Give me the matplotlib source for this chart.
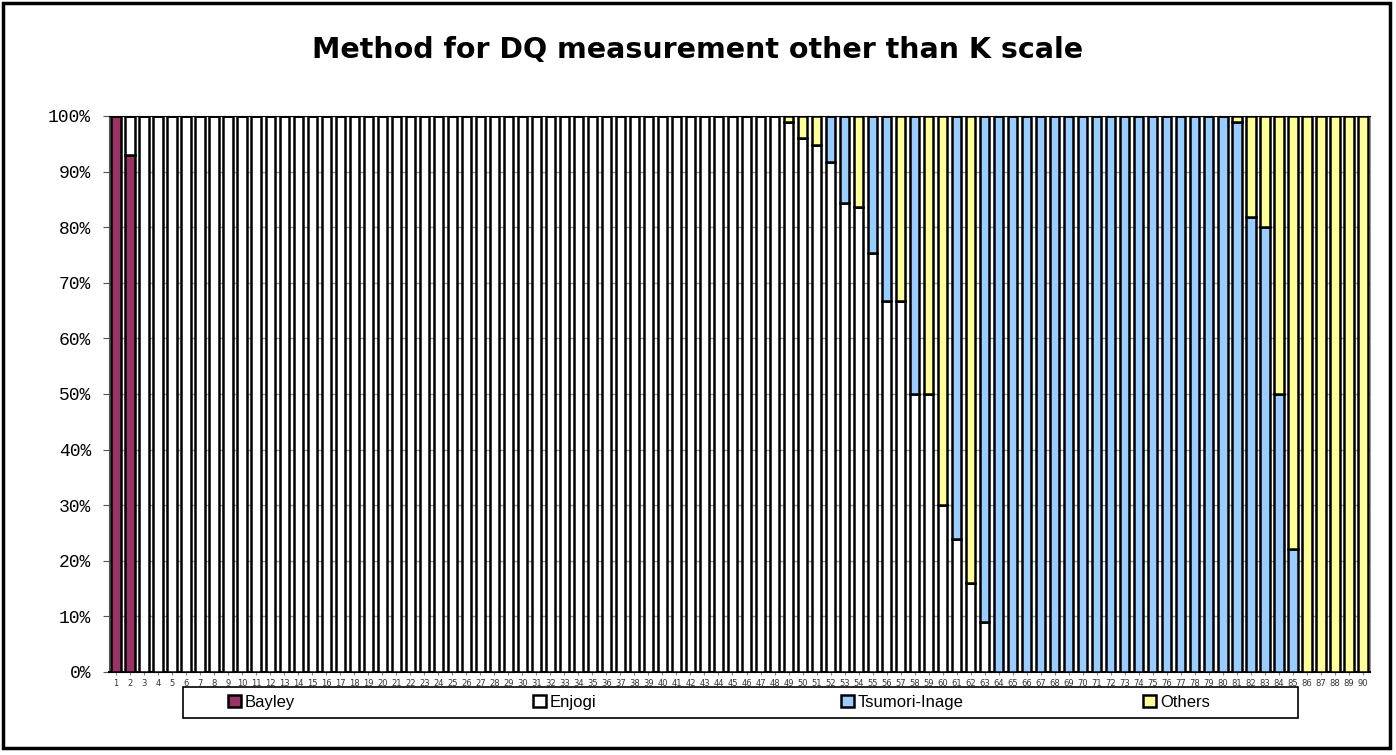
import matplotlib
matplotlib.use("Agg")
import matplotlib.pyplot as plt
from matplotlib.patches import Rectangle
from matplotlib.ticker import FuncFormatter
import numpy as np

# Data (percent of each method, per respondent group 1..90)
groups = [str(i) for i in range(1, 91)]

bayley = [100, 92.9, 0, 0, 0, 0, 0, 0, 0, 0,
          0, 0, 0, 0, 0, 0, 0, 0, 0, 0,
          0, 0, 0, 0, 0, 0, 0, 0, 0, 0,
          0, 0, 0, 0, 0, 0, 0, 0, 0, 0,
          0, 0, 0, 0, 0, 0, 0, 0, 0, 0,
          0, 0, 0, 0, 0, 0, 0, 0, 0, 0,
          0, 0, 0, 0, 0, 0, 0, 0, 0, 0,
          0, 0, 0, 0, 0, 0, 0, 0, 0, 0,
          0, 0, 0, 0, 0, 0, 0, 0, 0, 0]

enjogi = [0, 7.1, 100, 100, 100, 100, 100, 100, 100, 100,
          100, 100, 100, 100, 100, 100, 100, 100, 100, 100,
          100, 100, 100, 100, 100, 100, 100, 100, 100, 100,
          100, 100, 100, 100, 100, 100, 100, 100, 100, 100,
          100, 100, 100, 100, 100, 100, 100, 100, 98.9, 96,
          94.7, 91.8, 84.4, 83.6, 75.3, 66.7, 66.7, 50, 50, 30,
          24, 16, 9, 0, 0, 0, 0, 0, 0, 0,
          0, 0, 0, 0, 0, 0, 0, 0, 0, 0,
          0, 0, 0, 0, 0, 0, 0, 0, 0, 0]

tsumori = [0, 0, 0, 0, 0, 0, 0, 0, 0, 0,
           0, 0, 0, 0, 0, 0, 0, 0, 0, 0,
           0, 0, 0, 0, 0, 0, 0, 0, 0, 0,
           0, 0, 0, 0, 0, 0, 0, 0, 0, 0,
           0, 0, 0, 0, 0, 0, 0, 0, 0, 0,
           0, 8.2, 15.6, 0, 24.7, 33.3, 0, 50, 0, 0,
           76, 0, 91, 100, 100, 100, 100, 100, 100, 100,
           100, 100, 100, 100, 100, 100, 100, 100, 100, 100,
           98.9, 81.8, 80, 50, 22.2, 0, 0, 0, 0, 0]

others = [0, 0, 0, 0, 0, 0, 0, 0, 0, 0,
          0, 0, 0, 0, 0, 0, 0, 0, 0, 0,
          0, 0, 0, 0, 0, 0, 0, 0, 0, 0,
          0, 0, 0, 0, 0, 0, 0, 0, 0, 0,
          0, 0, 0, 0, 0, 0, 0, 0, 1.1, 4,
          5.3, 0, 0, 16.4, 0, 0, 33.3, 0, 50, 70,
          0, 84, 0, 0, 0, 0, 0, 0, 0, 0,
          0, 0, 0, 0, 0, 0, 0, 0, 0, 0,
          1.1, 18.2, 20, 50, 77.8, 100, 100, 100, 100, 100]

series = [("Bayley", bayley, "#993366"),
          ("Enjogi", enjogi, "#FFFFFF"),
          ("Tsumori-Inage", tsumori, "#99CCFF"),
          ("Others", others, "#FFFF99")]

W, H = 1396, 755
fig = plt.figure(figsize=(W / 100, H / 100), dpi=100)
ax = fig.add_axes([109 / W, 1 - 672 / H, (1370 - 109) / W, (672 - 116) / H])

x = np.arange(1, len(groups) + 1)
bottom = np.zeros(len(groups))
handles = []
for name, vals, col in series:
    vals = np.array(vals, dtype=float)
    b = ax.bar(x, vals, bottom=bottom, width=0.66, color=col,
               edgecolor="black", linewidth=1.8, zorder=3, label=name)
    handles.append(b)
    bottom += vals

ax.set_xlim(0.5, len(groups) + 0.5)
ax.set_ylim(0, 100)
ax.set_yticks(np.arange(0, 101, 10))
ax.yaxis.set_major_formatter(FuncFormatter(lambda v, p: "%d%%" % v))
ax.set_xticks(x)
ax.set_xticklabels(groups)
ax.tick_params(axis="y", labelsize=13, length=4, color="#555555", pad=9)
ax.tick_params(axis="x", labelsize=6, length=2, color="#888888", pad=3, labelcolor="#333333")
for lab in ax.get_yticklabels():
    lab.set_family("Liberation Mono")

ax.grid(axis="y", color="#999999", linewidth=1, zorder=0)
ax.set_axisbelow(True)
ax.spines["right"].set_color("#999999")
ax.spines["top"].set_color("black")
ax.spines["left"].set_color("#555555")
ax.spines["bottom"].set_color("black")
ax.spines["bottom"].set_linewidth(1.5)

fig.text(0.5, 1 - 50 / H, "Method for DQ measurement other than K scale",
         ha="center", va="center", fontsize=20.5, fontweight="bold",
         family="DejaVu Sans")

# legend box with evenly spaced entries
fig.patches.append(Rectangle((183 / W, 1 - 718 / H), (1298 - 183) / W, 31 / H,
                             transform=fig.transFigure, facecolor="white",
                             edgecolor="black", linewidth=1.2))
leg_x = [220, 525, 833, 1135]
for h, (name, _, _), lx in zip(handles, series, leg_x):
    fig.legend([h], [name], loc="center left", bbox_to_anchor=(lx / W, 1 - 702.5 / H),
               frameon=False, handlelength=0.75, handleheight=0.75, handletextpad=0.25,
               borderpad=0, prop={"family": "Liberation Sans", "size": 12})

# outer chart border
fig.patches.append(Rectangle((3 / W, 1 - 748 / H), 1387 / W, 745 / H,
                             transform=fig.transFigure, fill=False,
                             edgecolor="black", linewidth=2.5))

fig.savefig("out.png", dpi=100)
